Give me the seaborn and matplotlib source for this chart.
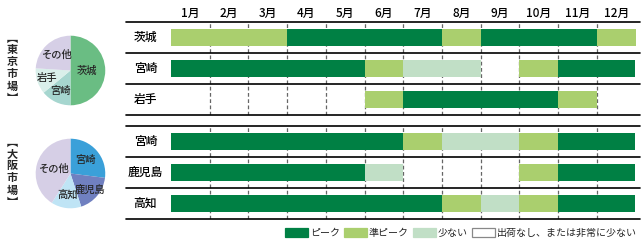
import matplotlib
matplotlib.use('Agg')
import matplotlib.pyplot as plt
from matplotlib.patches import Patch
import numpy as np
import seaborn as sns

# --- data ---
months = ['1月', '2月', '3月', '4月', '5月', '6月', '7月', '8月', '9月', '10月', '11月', '12月']

# P = ピーク, S = 準ピーク, F = 少ない, N = 出荷なし
tokyo_rows = ['茨城', '宮崎', '岩手']
tokyo_ibaraki = ['S', 'S', 'S', 'P', 'P', 'P', 'P', 'S', 'P', 'P', 'P', 'S']
tokyo_miyazaki = ['P', 'P', 'P', 'P', 'P', 'S', 'F', 'F', 'N', 'S', 'P', 'P']
tokyo_iwate = ['N', 'N', 'N', 'N', 'N', 'S', 'P', 'P', 'P', 'P', 'S', 'N']

osaka_rows = ['宮崎', '鹿児島', '高知']
osaka_miyazaki = ['P', 'P', 'P', 'P', 'P', 'P', 'S', 'F', 'F', 'S', 'P', 'P']
osaka_kagoshima = ['P', 'P', 'P', 'P', 'P', 'F', 'N', 'N', 'N', 'S', 'P', 'P']
osaka_kochi = ['P', 'P', 'P', 'P', 'P', 'P', 'P', 'S', 'F', 'S', 'P', 'P']

tokyo_pie_labels = ['茨城', '宮崎', '岩手', 'その他']
tokyo_pie_share = [50, 14, 12, 24]
osaka_pie_labels = ['宮崎', '鹿児島', '高知', 'その他']
osaka_pie_share = [27, 18, 14, 41]

status_keys = ['P', 'S', 'F', 'N']
status_names = ['ピーク', '準ピーク', '少ない', '出荷なし、または非常に少ない']

# --- style ---
sns.set_theme(style='white')
plt.rcParams['font.family'] = ['Noto Sans CJK JP', 'DejaVu Sans']

status_colors = {'P': '#008044', 'S': '#aacf6e', 'F': '#c1dfc6', 'N': '#ffffff'}
tokyo_pie_colors = ['#6abd83', '#a6d6cf', '#d9efea', '#d6cfe6']
osaka_pie_colors = ['#3aa0d9', '#7080c0', '#bfe4f5', '#d6cfe6']

fig = plt.figure(figsize=(6.42, 2.5), dpi=100)


def runs(values):
    """Group consecutive months with the same status."""
    out = []
    start = 0
    for i in range(1, len(values) + 1):
        if i == len(values) or values[i] != values[start]:
            out.append((start, i - start, values[start]))
            start = i
    return out


def draw_gantt(ax, rows, series, show_months=False):
    ax.set_xlim(0, 12)
    ax.set_ylim(len(rows), 0)
    ax.axis('off')
    for m in range(1, 12):
        ax.axvline(m, color='#666666', lw=0.9, ls=(0, (3, 2)), zorder=1)
    for r in range(len(rows) + 1):
        ax.plot([-1.16, 12.12], [r, r], color='black', lw=1.2, clip_on=False, zorder=3)
    for r, (name, values) in enumerate(zip(rows, series)):
        for start, width, key in runs(values):
            if key == 'N':
                continue
            ax.barh(r + 0.5, width, left=start, height=0.53,
                    color=status_colors[key], linewidth=0, zorder=2)
        ax.text(-0.66, r + 0.5, name, ha='center', va='center', fontsize=8.5,
                fontweight='medium', color='black', clip_on=False)
    if show_months:
        for m, label in enumerate(months):
            ax.text(m + 0.5, -0.27, label, ha='center', va='center', fontsize=8.5,
                    fontweight='medium', color='black', clip_on=False)


def draw_pie(ax, shares, labels, colors, radii):
    wedges, texts = ax.pie(shares, labels=labels, colors=colors, startangle=90,
                           counterclock=False, labeldistance=0.6,
                           wedgeprops=dict(linewidth=0),
                           textprops=dict(fontsize=7.4, fontweight='medium',
                                          ha='center', va='center'))
    # push each label along its wedge's mid-angle
    for w, t, r in zip(wedges, texts, radii):
        ang = np.deg2rad((w.theta1 + w.theta2) / 2)
        t.set_position((r * np.cos(ang), r * np.sin(ang)))
        t.set_ha('center')
    ax.set_aspect('equal')


ax_tp = fig.add_axes([0.042, 0.544, 0.1355, 0.348])
draw_pie(ax_tp, tokyo_pie_share, tokyo_pie_labels, tokyo_pie_colors,
         [0.47, 0.66, 0.72, 0.6])
ax_op = fig.add_axes([0.042, 0.132, 0.1355, 0.348])
draw_pie(ax_op, osaka_pie_share, osaka_pie_labels, osaka_pie_colors,
         [0.58, 0.75, 0.62, 0.5])

ax_t = fig.add_axes([171 / 642, 0.54, 464.5 / 642, 0.372])
draw_gantt(ax_t, tokyo_rows, [tokyo_ibaraki, tokyo_miyazaki, tokyo_iwate], show_months=True)
ax_o = fig.add_axes([171 / 642, 0.124, 464.5 / 642, 0.372])
draw_gantt(ax_o, osaka_rows, [osaka_miyazaki, osaka_kagoshima, osaka_kochi])

# vertical market labels
fig.text(0.019, 0.728, '\n'.join('︻東京市場︼'), ha='center', va='center',
         fontsize=8, fontweight='bold', linespacing=0.9)
fig.text(0.019, 0.312, '\n'.join('︻大阪市場︼'), ha='center', va='center',
         fontsize=8, fontweight='bold', linespacing=0.9)

handles = [Patch(facecolor=status_colors[k],
                 edgecolor='#888888' if k == 'N' else status_colors[k], linewidth=0.9)
           for k in status_keys]
fig.legend(handles, status_names, ncol=4, loc='center right',
           bbox_to_anchor=(0.998, 0.068), borderaxespad=0, frameon=False, fontsize=7.2,
           handlelength=2.3, handleheight=1.0, handletextpad=0.2, columnspacing=0.4)

fig.savefig('out.png', dpi=100)
